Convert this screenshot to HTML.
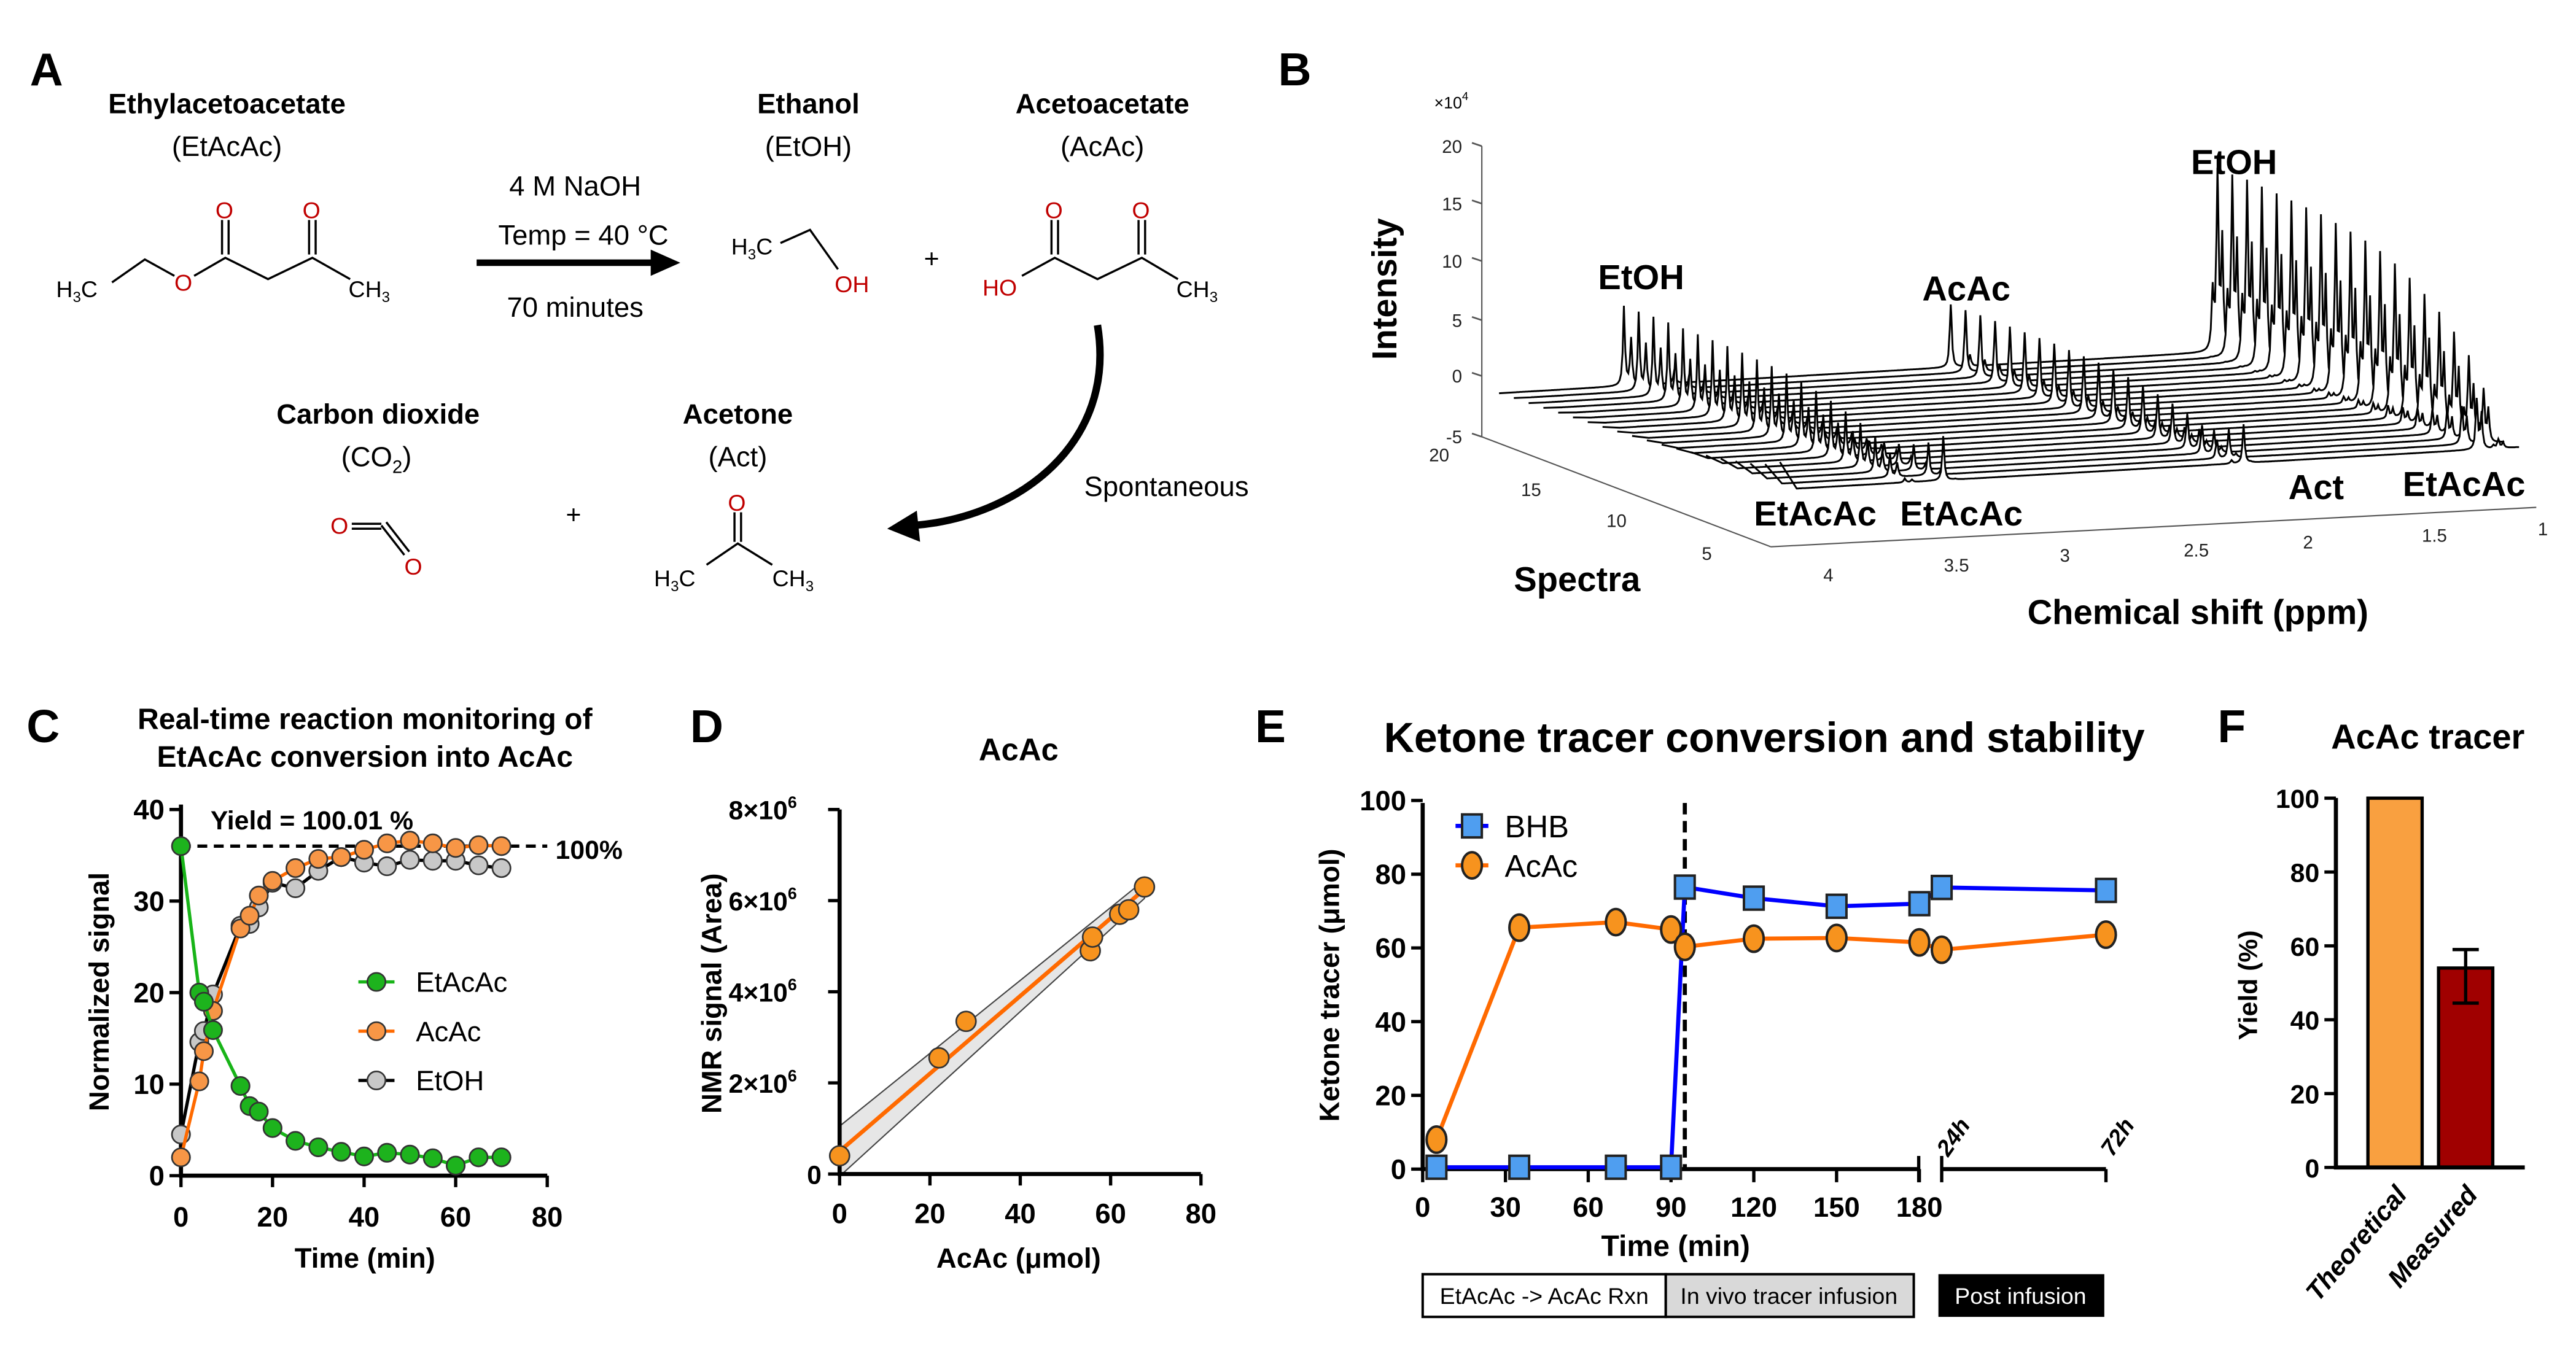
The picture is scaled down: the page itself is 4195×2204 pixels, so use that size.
<!DOCTYPE html>
<html><head><meta charset="utf-8"><style>
html,body{margin:0;padding:0;background:#fff}
svg{display:block}
text{font-family:"Liberation Sans",sans-serif}
.b{font-weight:bold}
</style></head><body>
<svg id="fig" xmlns="http://www.w3.org/2000/svg" width="4195" height="2204" viewBox="0 0 1568 824">
<rect x="0" y="0" width="1568" height="824" fill="#fff"/>
<!-- Panel A -->
<g id="panelA">
<text x="18" y="52" class="b" font-size="28">A</text>
<text x="138" y="69" class="b" font-size="17" text-anchor="middle">Ethylacetoacetate</text>
<text x="138" y="95" font-size="17" text-anchor="middle">(EtAcAc)</text>
<g stroke="#000" stroke-width="1.3" fill="none">
<polyline points="68,172 88,158 106,168"/>
<polyline points="118,168 137,157 163,170 190,157 213,170"/>
<line x1="135" y1="155" x2="135" y2="134"/><line x1="139" y1="155" x2="139" y2="134"/>
<line x1="188" y1="155" x2="188" y2="134"/><line x1="192" y1="155" x2="192" y2="134"/>
</g>
<text x="34" y="181" font-size="14">H<tspan font-size="9" dy="3">3</tspan><tspan dy="-3">C</tspan></text>
<text x="106" y="177" font-size="14" fill="#c00000">O</text>
<text x="131" y="133" font-size="14" fill="#c00000">O</text>
<text x="184" y="133" font-size="14" fill="#c00000">O</text>
<text x="212" y="181" font-size="14">CH<tspan font-size="9" dy="3">3</tspan></text>
<text x="350" y="119" font-size="17" text-anchor="middle">4 M NaOH</text>
<text x="355" y="149" font-size="17" text-anchor="middle">Temp = 40 °C</text>
<text x="350" y="193" font-size="17" text-anchor="middle">70 minutes</text>
<line x1="290" y1="160" x2="398" y2="160" stroke="#000" stroke-width="4"/>
<polygon points="396,152 414,160 396,168" fill="#000"/>
<text x="492" y="69" class="b" font-size="17" text-anchor="middle">Ethanol</text>
<text x="492" y="95" font-size="17" text-anchor="middle">(EtOH)</text>
<text x="445" y="155" font-size="14">H<tspan font-size="9" dy="3">3</tspan><tspan dy="-3">C</tspan></text>
<polyline points="475,148 493,140 510,164" stroke="#000" stroke-width="1.3" fill="none"/>
<text x="508" y="178" font-size="14" fill="#c00000">OH</text>
<text x="567" y="163" font-size="16" text-anchor="middle">+</text>
<text x="671" y="69" class="b" font-size="17" text-anchor="middle">Acetoacetate</text>
<text x="671" y="95" font-size="17" text-anchor="middle">(AcAc)</text>
<g stroke="#000" stroke-width="1.3" fill="none">
<polyline points="622,168 642,157 668,170 695,157 717,170"/>
<line x1="640" y1="155" x2="640" y2="134"/><line x1="644" y1="155" x2="644" y2="134"/>
<line x1="693" y1="155" x2="693" y2="134"/><line x1="697" y1="155" x2="697" y2="134"/>
</g>
<text x="598" y="180" font-size="14" fill="#c00000">HO</text>
<text x="636" y="133" font-size="14" fill="#c00000">O</text>
<text x="689" y="133" font-size="14" fill="#c00000">O</text>
<text x="716" y="181" font-size="14">CH<tspan font-size="9" dy="3">3</tspan></text>
<path d="M668,198 C680,270 620,315 556,320" stroke="#000" stroke-width="4.5" fill="none"/>
<polygon points="558,311 540,322 560,330" fill="#000"/>
<text x="710" y="302" font-size="17" text-anchor="middle">Spontaneous</text>
<text x="230" y="258" class="b" font-size="17" text-anchor="middle">Carbon dioxide</text>
<text x="229" y="284" font-size="17" text-anchor="middle">(CO<tspan font-size="11" dy="4">2</tspan><tspan dy="-4">)</tspan></text>
<g stroke="#000" stroke-width="1.3" fill="none"><line x1="214" y1="319" x2="232" y2="319"/><line x1="214" y1="322" x2="232" y2="322"/><line x1="232" y1="320" x2="246" y2="338"/><line x1="235" y1="318" x2="249" y2="336"/></g>
<text x="201" y="325" font-size="14" fill="#c00000">O</text>
<text x="246" y="350" font-size="14" fill="#c00000">O</text>
<text x="349" y="319" font-size="16" text-anchor="middle">+</text>
<text x="449" y="258" class="b" font-size="17" text-anchor="middle">Acetone</text>
<text x="449" y="284" font-size="17" text-anchor="middle">(Act)</text>
<g stroke="#000" stroke-width="1.3" fill="none"><polyline points="430,344 449,331 470,344"/><line x1="447" y1="330" x2="447" y2="312"/><line x1="451" y1="330" x2="451" y2="312"/></g>
<text x="443" y="311" font-size="14" fill="#c00000">O</text>
<text x="398" y="357" font-size="14">H<tspan font-size="9" dy="3">3</tspan><tspan dy="-3">C</tspan></text>
<text x="470" y="357" font-size="14">CH<tspan font-size="9" dy="3">3</tspan></text>
</g>
<!-- Panel B -->
<g id="panelB">
<text x="778" y="52" class="b" font-size="28">B</text>
<g id="bTraces"></g>
<g stroke="#555" stroke-width="0.8" fill="none">
<line x1="902" y1="89" x2="902" y2="266"/>
<line x1="902" y1="266" x2="1078" y2="333"/>
<line x1="1078" y1="333" x2="1544" y2="309"/>
</g>
<g id="bAxes" font-size="11" fill="#222"></g>
<text x="873" y="66" font-size="10">×10<tspan font-size="7" dy="-5">4</tspan></text>
<text transform="translate(850,176) rotate(-90)" class="b" font-size="21" text-anchor="middle">Intensity</text>
<text x="960" y="360" class="b" font-size="21" text-anchor="middle">Spectra</text>
<text x="1338" y="380" class="b" font-size="21" text-anchor="middle">Chemical shift (ppm)</text>
<g class="b" font-size="21" text-anchor="middle">
<text x="999" y="176">EtOH</text>
<text x="1197" y="183">AcAc</text>
<text x="1360" y="106">EtOH</text>
<text x="1410" y="304">Act</text>
<text x="1500" y="302">EtAcAc</text>
<text x="1105" y="320">EtAcAc</text>
<text x="1194" y="320">EtAcAc</text>
</g>
</g>
<!-- Panel C -->
<g id="panelC">
<text x="16" y="452" class="b" font-size="28">C</text>
<text x="222" y="444" class="b" font-size="18" text-anchor="middle">Real-time reaction monitoring of</text>
<text x="222" y="467" class="b" font-size="18" text-anchor="middle">EtAcAc conversion into AcAc</text>
<text transform="translate(66,604) rotate(-90)" class="b" font-size="17" text-anchor="middle">Normalized signal</text>
<text x="222" y="772" class="b" font-size="17" text-anchor="middle">Time (min)</text>
<text x="128" y="505" class="b" font-size="16">Yield = 100.01 %</text>
<text x="338" y="523" class="b" font-size="16">100%</text>
<g id="cPlot"></g>
</g>
<!-- Panel D -->
<g id="panelD">
<text x="420" y="452" class="b" font-size="28">D</text>
<text x="620" y="463" class="b" font-size="19" text-anchor="middle">AcAc</text>
<text transform="translate(439,605) rotate(-90)" class="b" font-size="17" text-anchor="middle">NMR signal (Area)</text>
<text x="620" y="772" class="b" font-size="17" text-anchor="middle">AcAc (μmol)</text>
<g id="dPlot"></g>
</g>
<!-- Panel E -->
<g id="panelE">
<text x="764" y="452" class="b" font-size="28">E</text>
<text x="1074" y="458" class="b" font-size="25.5" text-anchor="middle">Ketone tracer conversion and stability</text>
<text transform="translate(815,600) rotate(-90)" class="b" font-size="17" text-anchor="middle">Ketone tracer (μmol)</text>
<text x="1020" y="765" class="b" font-size="18" text-anchor="middle">Time (min)</text>
<g id="ePlot"></g>
<rect x="866" y="776" width="148" height="26" fill="#fff" stroke="#000" stroke-width="1.5"/>
<rect x="1014" y="776" width="151" height="26" fill="#d9d9d9" stroke="#000" stroke-width="1.5"/>
<rect x="1180" y="776" width="101" height="26" fill="#000"/>
<text x="940" y="794" font-size="14" text-anchor="middle">EtAcAc -&gt; AcAc Rxn</text>
<text x="1089" y="794" font-size="14" text-anchor="middle">In vivo tracer infusion</text>
<text x="1230" y="794" font-size="14" text-anchor="middle" fill="#fff">Post  infusion</text>
</g>
<!-- Panel F -->
<g id="panelF">
<text x="1350" y="452" class="b" font-size="28">F</text>
<text x="1478" y="456" class="b" font-size="21" text-anchor="middle">AcAc tracer</text>
<text transform="translate(1374,600) rotate(-90)" class="b" font-size="16" text-anchor="middle">Yield (%)</text>
<g id="fPlot"></g>
</g>
</svg>
<script>
const NS='http://www.w3.org/2000/svg';
function mk(tag,attrs,parent){const e=document.createElementNS(NS,tag);for(const k in attrs)e.setAttribute(k,attrs[k]);parent.appendChild(e);return e;}

// ---------- Panel C data ----------
const cTimes=[0,4,5,7,13,15,17,20,25,30,35,40,45,50,55,60,65,70];
const cEtAcAc=[36,20,19,15.9,9.8,7.6,7,5.2,3.8,3.1,2.6,2.1,2.5,2.3,1.9,1.1,2.0,2.0];
const cAcAc=[2,10.3,13.6,18,27,28.4,30.6,32.2,33.6,34.6,34.8,35.6,36.3,36.6,36.3,35.8,36.1,36.0];
const cEtOH=[4.5,14.6,15.8,19.8,27.3,27.5,29.3,32.0,31.4,33.3,34.8,34.2,33.8,34.5,34.4,34.4,33.9,33.6];
const cXTicks=[0,20,40,60,80];
const cYTicks=[0,10,20,30,40];
// ---------- Panel D data ----------
const dAcAc=[0,22,28,55.5,56,62,64,67.5];
const dSignal=[0.4,2.55,3.35,4.9,5.2,5.7,5.8,6.3];
const dFit=[0.5,6.25];
const dXTicks=[0,20,40,60,80];
const dYTicks=[0,2,4,6,8];
// ---------- Panel E data ----------
const eTimes=[5,35,70,90,95,120,150,180,1440,4320];
const eBHB=[0.5,0.5,0.5,0.5,76.5,73.5,71.3,72,76.4,75.6];
const eAcAc=[8,65.5,67,65,60.3,62.5,62.7,61.5,59.5,63.6];
const eXTicks=[0,30,60,90,120,150,180];
const eYTicks=[0,20,40,60,80,100];
// ---------- Panel F data ----------
const fCats=['Theoretical','Measured'];
const fVals=[100,54];
const fErr=[0,5];
const fYTicks=[0,20,40,60,80,100];
// ---------- Panel B data ----------
const bProgress=[0.05,0.3,0.45,0.55,0.63,0.7,0.76,0.81,0.85,0.88,0.9,0.92,0.94,0.95,0.96,0.97,0.98,0.99,0.99,1.0];
const bEtOHPeaks=[[3.66,6.8],[3.63,4],[1.19,15],[1.17,9.5],[1.21,5]];
const bAcAcPeaks=[[2.30,5.4],[3.45,1.2]];
const bEtAcAcPeaks=[[4.18,2.5],[3.50,4],[2.25,3.5],[1.28,4.5],[1.26,3.2]];
const bActPeaks=[[2.22,1.0]];

// ---------- Panel C ----------
(function(){
const g=document.getElementById('cPlot');
const x=t=>110+t*(223/80), y=v=>716-v*5.575;
const ax=mk('path',{d:`M110,490 V716 H333`,stroke:'#000','stroke-width':2.5,fill:'none'},g);


cXTicks.forEach(t=>{mk('line',{x1:x(t),y1:716,x2:x(t),y2:723,stroke:'#000','stroke-width':2},g);
 const tx=mk('text',{x:x(t),y:747,'font-size':17,'font-weight':'bold','text-anchor':'middle'},g);tx.textContent=t;
 
 });
cYTicks.forEach(v=>{mk('line',{x1:103,y1:y(v),x2:110,y2:y(v),stroke:'#000','stroke-width':2},g);
 const tx=mk('text',{x:100,y:y(v)+6,'font-size':17,'font-weight':'bold','text-anchor':'end'},g);tx.textContent=v;
 
 });
const dl=mk('line',{x1:110,y1:y(36),x2:333,y2:y(36),stroke:'#000','stroke-width':2,'stroke-dasharray':'6,4'},g);


const series=[[cEtOH,'#000','#c8c8c8','etoh'],[cAcAc,'#ff6a00','#f79646','acac'],[cEtAcAc,'#18b418','#1db31d','etacac']];
series.forEach(([vals,lc,fc,nm])=>{
 const pl=mk('polyline',{points:vals.map((v,i)=>x(cTimes[i])+','+y(v)).join(' '),stroke:lc,'stroke-width':2,fill:'none'},g);
 
 
 vals.forEach((v,i)=>{const c=mk('circle',{cx:x(cTimes[i]),cy:y(v),r:5.5,fill:fc,stroke:'#333','stroke-width':1},g);
  
  });
});
const leg=[['EtAcAc','#18b418','#1db31d',598],['AcAc','#ff6a00','#f79646',628],['EtOH','#000','#c8c8c8',658]];
leg.forEach(([n,lc,fc,yy])=>{mk('line',{x1:218,y1:yy,x2:240,y2:yy,stroke:lc,'stroke-width':2},g);
 const c=mk('circle',{cx:229,cy:yy,r:5.5,fill:fc,stroke:'#333'},g);
 
 
 const t=mk('text',{x:253,y:yy+6,'font-size':17},g);t.textContent=n;
 
 });
})();

// ---------- Panel D ----------
(function(){
const g=document.getElementById('dPlot');
const x=v=>511+v*2.75, y=v=>715-v*27.75;
const x1=0,x2=67.5;
const band=mk('polygon',{points:`${x(x1)},${y(dFit[0]+0.55)} ${x(x2)},${y(dFit[1]+0.2)} ${x(x2)},${y(dFit[1]-0.2)} ${x(x1)},${y(dFit[0]-0.55)}`,fill:'#e6e6e6',stroke:'#444','stroke-width':0.8},g);


const fl=mk('line',{x1:x(x1),y1:y(dFit[0]),x2:x(x2),y2:y(dFit[1]),stroke:'#ff6a00','stroke-width':2.5},g);


const ax=mk('path',{d:`M511,493 V715 H731`,stroke:'#000','stroke-width':2.5,fill:'none'},g);


dXTicks.forEach(t=>{mk('line',{x1:x(t),y1:715,x2:x(t),y2:722,stroke:'#000','stroke-width':2},g);
 const tx=mk('text',{x:x(t),y:745,'font-size':17,'font-weight':'bold','text-anchor':'middle'},g);tx.textContent=t;
 
 });
dYTicks.forEach(v=>{mk('line',{x1:504,y1:y(v),x2:511,y2:y(v),stroke:'#000','stroke-width':2},g);
 const tx=mk('text',{x:v===0?500:485,y:y(v)+6,'font-size':16,'font-weight':'bold','text-anchor':'end'},g);
 tx.textContent=v===0?'0':v+'×10';
 if(v!==0){const s=mk('tspan',{'font-size':10,dy:-7},tx);s.textContent='6';}
 
 });
dAcAc.forEach((v,i)=>{const c=mk('circle',{cx:x(v),cy:y(dSignal[i]),r:6,fill:'#f7931e',stroke:'#333','stroke-width':1},g);
 
 });
})();

// ---------- Panel E ----------
(function(){
const g=document.getElementById('ePlot');
const x=t=>t<=180?866+t*1.68:1182+(t-1440)/(4320-1440)*100;
const y=v=>712-v*2.245;
const ax=mk('path',{d:`M866,489 V712 H1168 M1182,712 H1282`,stroke:'#000','stroke-width':2.5,fill:'none'},g);


mk('line',{x1:1168,y1:704,x2:1168,y2:720,stroke:'#000','stroke-width':2},g);
mk('line',{x1:1182,y1:704,x2:1182,y2:720,stroke:'#000','stroke-width':2},g);
mk('line',{x1:1282,y1:712,x2:1282,y2:720,stroke:'#000','stroke-width':2},g);
eXTicks.forEach(t=>{mk('line',{x1:x(t),y1:712,x2:x(t),y2:720,stroke:'#000','stroke-width':2},g);
 const tx=mk('text',{x:x(t),y:741,'font-size':17,'font-weight':'bold','text-anchor':'middle'},g);tx.textContent=t;
 
 });
[['24h',1440],['72h',4320]].forEach(([l,t])=>{const tx=mk('text',{transform:`translate(${x(t)+4},705) rotate(-55)`,'font-size':14,'font-weight':'bold','font-style':'italic'},g);tx.textContent=l;
 
 });
eYTicks.forEach(v=>{mk('line',{x1:859,y1:y(v),x2:866,y2:y(v),stroke:'#000','stroke-width':2},g);
 const tx=mk('text',{x:856,y:y(v)+6,'font-size':17,'font-weight':'bold','text-anchor':'end'},g);tx.textContent=v;
 
 });
const vl=mk('line',{x1:x(95),y1:489,x2:x(95),y2:712,stroke:'#000','stroke-width':2.5,'stroke-dasharray':'7,4'},g);


const la=mk('polyline',{points:eAcAc.map((v,i)=>x(eTimes[i])+','+y(v)).join(' '),stroke:'#ff6a00','stroke-width':2.5,fill:'none'},g);


const lb=mk('polyline',{points:eBHB.map((v,i)=>x(eTimes[i])+','+y(v)).join(' '),stroke:'#0000ff','stroke-width':2.5,fill:'none'},g);


eAcAc.forEach((v,i)=>{const c=mk('ellipse',{cx:x(eTimes[i]),cy:y(v),rx:6,ry:8,fill:'#f7931e',stroke:'#222','stroke-width':1.5},g);
 
 });
eBHB.forEach((v,i)=>{const r=mk('rect',{x:x(eTimes[i])-6,y:y(v)-7,width:12,height:14,fill:'#4f9ef0',stroke:'#222','stroke-width':1.5},g);
 
 });
mk('line',{x1:886,y1:503,x2:906,y2:503,stroke:'#0000ff','stroke-width':2.5},g);
mk('rect',{x:890,y:496,width:12,height:14,fill:'#4f9ef0',stroke:'#222','stroke-width':1.5},g);
mk('line',{x1:886,y1:527,x2:906,y2:527,stroke:'#ff6a00','stroke-width':2.5},g);
mk('ellipse',{cx:896,cy:527,rx:6,ry:8,fill:'#f7931e',stroke:'#222','stroke-width':1.5},g);
const t1=mk('text',{x:916,y:510,'font-size':19},g);t1.textContent='BHB';


const t2=mk('text',{x:916,y:534,'font-size':19},g);t2.textContent='AcAc';


})();

// ---------- Panel F ----------
(function(){
const g=document.getElementById('fPlot');
const y=v=>711-v*2.249;
const xs=[1458,1501], colors=['#f9a040','#a00000'];
fVals.forEach((v,i)=>{const r=mk('rect',{x:xs[i]-16.5,y:y(v),width:33,height:711-y(v),fill:colors[i],stroke:'#000','stroke-width':2},g);
 
 
 if(fErr[i]>0){const e=mk('path',{d:`M${xs[i]},${y(v+fErr[i])} V${y(v-fErr[i]*1.9)} M${xs[i]-8},${y(v+fErr[i])} H${xs[i]+8} M${xs[i]-8},${y(v-fErr[i]*1.9)} H${xs[i]+8}`,stroke:'#000','stroke-width':2,fill:'none'},g);
  
  }
 const t=mk('text',{transform:`translate(${xs[i]+8},728) rotate(-50)`,'font-size':16,'font-weight':'bold','font-style':'italic','text-anchor':'end'},g);t.textContent=fCats[i];
 
 });
const ax=mk('path',{d:`M1422,486 V711 H1537`,stroke:'#000','stroke-width':2.5,fill:'none'},g);


fYTicks.forEach(v=>{mk('line',{x1:1415,y1:y(v),x2:1422,y2:y(v),stroke:'#000','stroke-width':2},g);
 const tx=mk('text',{x:1412,y:y(v)+6,'font-size':16,'font-weight':'bold','text-anchor':'end'},g);tx.textContent=v;
 
 });
})();

// ---------- Panel B ----------
(function(){
const g=document.getElementById('bTraces');
const N=bProgress.length;
const P0=4.11,P1=1.1,dxp=146.3,dyp=8.4,hu=7.08;
const frontX=1093.7,frontY=297.6,stepX=9.0,stepY=3.09;
const gam=0.005;
const lor=(p,c,a)=>a*gam*gam/((p-c)*(p-c)+gam*gam);
const allPeaks=[...bEtOHPeaks,...bAcAcPeaks,...bEtAcAcPeaks,...bActPeaks].map(p=>p[0]);
const grid=[];for(let p=P0;p>=P1;p-=0.006)grid.push(p);
allPeaks.forEach(p=>grid.push(p));grid.sort((a,b)=>b-a);
for(let k=N-1;k>=0;k--){
 const pr=bProgress[k];
 const px=frontX-k*stepX, py=frontY-k*stepY;
 const pts=[];
 grid.forEach(p=>{
  let h=0;
  bEtOHPeaks.forEach(([c,a])=>h+=lor(p,c,a*pr));
  bAcAcPeaks.forEach(([c,a])=>h+=lor(p,c,a*pr));
  bActPeaks.forEach(([c,a])=>h+=lor(p,c,a*pr));
  bEtAcAcPeaks.forEach(([c,a])=>h+=lor(p,c,a*(1-pr)));
  const X=px+(P0-p)*dxp, Y=py-(P0-p)*dyp-h*hu;
  pts.push(X.toFixed(1)+','+Y.toFixed(1));
 });
 const bl=`${(px+(P0-P1)*dxp).toFixed(1)},${(py-(P0-P1)*dyp+1).toFixed(1)} ${px},${py+1}`;
 const poly=mk('polygon',{points:pts.join(' ')+' '+bl,fill:'#fff',stroke:'none'},g);
 
 
 const pl=mk('polyline',{points:pts.join(' '),fill:'none',stroke:'#000','stroke-width':1.1},g);
 
 
}
const a=document.getElementById('bAxes');
const iT=[[20,89],[15,124],[10,159],[5,195],[0,229],[-5,266]];
iT.forEach(([v,yy])=>{mk('line',{x1:896,y1:yy-2,x2:902,y2:yy,stroke:'#555'},a);
 const t=mk('text',{x:890,y:yy+4,'text-anchor':'end'},a);t.textContent=v;
 
 });
const sT=[[20,876,281],[15,932,302],[10,984,321],[5,1039,341]];
sT.forEach(([v,xx,yy])=>{const t=mk('text',{x:xx,y:yy,'text-anchor':'middle'},a);t.textContent=v;
 
 });
const cT=[['4',1113,354],['3.5',1191,348],['3',1257,342],['2.5',1337,339],['2',1405,334],['1.5',1482,330],['1',1548,326]];
cT.forEach(([v,xx,yy])=>{const t=mk('text',{x:xx,y:yy,'text-anchor':'middle'},a);t.textContent=v;
 
 });
})();
</script>
</body></html>
